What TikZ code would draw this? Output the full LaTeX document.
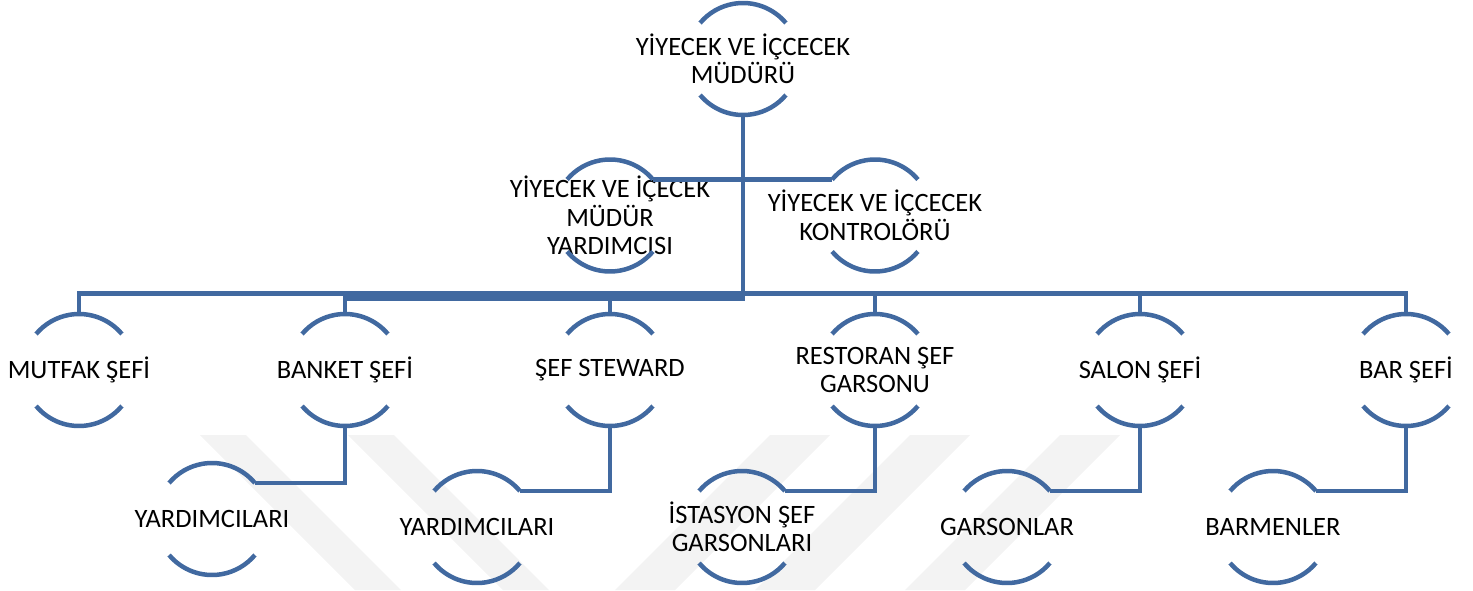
\documentclass[tikz,border=0pt]{standalone}
\usepackage{fontspec}
\setmainfont{Carlito}
\definecolor{hatmavi}{RGB}{65,105,160}
\definecolor{filigran}{RGB}{243,243,243}
\tikzset{
  halka/.style={circle, minimum size=112pt, inner sep=0pt, outer sep=0pt,
    label={[yazi]center:#1}},
  yazi/.style={font=\fontsize{26.5}{28.5}\selectfont, align=center, inner sep=0pt},
  hat/.style={hatmavi, line width=4.5pt},
}
\begin{document}
\begin{tikzpicture}[x=1pt,y=-1pt]
\useasboundingbox (0,0) rectangle (1473,590);

% filigran
\foreach \a in {200,348}
  \fill[filigran] (\a,435) -- ++(46,0) -- ++(155,155) -- ++(-46,0) -- cycle;
\foreach \a in {770,910,1060}
  \fill[filigran] (\a,435) -- ++(60,0) -- ++(-155,155) -- ++(-60,0) -- cycle;

% birimler
\node[halka={YİYECEK VE İÇCECEK\\MÜDÜRÜ}] (mudur) at (743,59) {};
\node[halka={YİYECEK VE İÇECEK\\MÜDÜR\\YARDIMCISI}] (mudyrd) at (610,215.5) {};
\node[halka={YİYECEK VE İÇCECEK\\KONTROLÖRÜ}] (kontrol) at (875,215.5) {};

\node[halka={MUTFAK ŞEFİ}] (mutfak) at (79,370) {};
\node[halka={BANKET ŞEFİ}] (banket) at (345,370) {};
\node[halka={ŞEF STEWARD}] (steward) at (610,370) {};
\node[halka={RESTORAN ŞEF\\GARSONU}] (restoran) at (875,370) {};
\node[halka={SALON ŞEFİ}] (salon) at (1140,370) {};
\node[halka={BAR ŞEFİ}] (bar) at (1406,370) {};

\node[halka={YARDIMCILARI}] (banyrd) at (212,519) {};
\node[halka={YARDIMCILARI}] (stwyrd) at (477,527) {};
\node[halka={İSTASYON ŞEF\\GARSONLARI}] (istasyon) at (742,527) {};
\node[halka={GARSONLAR}] (garson) at (1007,527) {};
\node[halka={BARMENLER}] (barmen) at (1273,527) {};

\foreach \n in {mudur,mudyrd,kontrol,mutfak,banket,steward,restoran,salon,bar,banyrd,stwyrd,istasyon,garson,barmen}{
  \draw[hat] (\n.40) arc (40:140:56pt);
  \draw[hat] (\n.-140) arc (-140:-40:56pt);
}

% baglantilar
\coordinate (bus) at (743,293.5);
\coordinate (bus2) at (743,298.5);
\draw[hat] (banket.north |- bus2) -- (mudur.south |- bus2) -- (mudur.south);
\draw[hat] (mudyrd.40) -- (kontrol.140);
\draw[hat] (mutfak.north) -- (mutfak.north |- bus) -- (bar.north |- bus) -- (bar.north);
\foreach \n in {banket,steward,restoran,salon}
  \draw[hat] (\n.north |- bus) -- (\n.north);
\foreach \ust/\alt in {banket/banyrd,steward/stwyrd,restoran/istasyon,salon/garson,bar/barmen}
  \draw[hat] (\ust.south) |- (\alt.40);
\end{tikzpicture}
\end{document}
